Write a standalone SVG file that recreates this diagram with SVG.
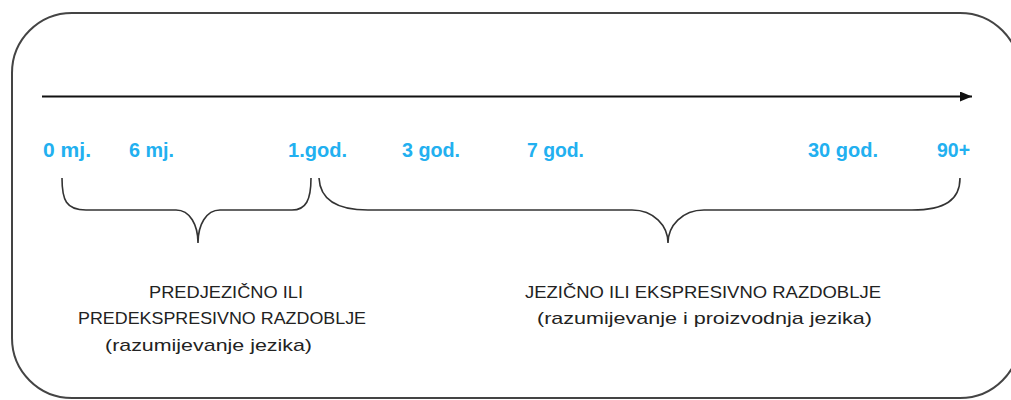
<svg xmlns="http://www.w3.org/2000/svg" width="1011" height="400" viewBox="0 0 1011 400">
<style>
.frame{fill:#fff;stroke:#444;stroke-width:2}
.axis{stroke:#111;stroke-width:2;fill:none}
.brace{stroke:#333;stroke-width:1.6;fill:none}
.age{font-family:"Liberation Sans",Arial,sans-serif;font-weight:bold;font-size:20px;fill:#22b0f0}
.cap{font-family:"Liberation Sans",Arial,sans-serif;font-size:17px;fill:#222}
</style>
<defs>
<marker id="arr" markerWidth="12" markerHeight="10" refX="12" refY="5" orient="auto" markerUnits="userSpaceOnUse">
<path d="M0,0 L12,5 L0,10 Z" fill="#111"/>
</marker>
</defs>
<rect width="1011" height="400" fill="#fff"/>
<g id="frame"><rect class="frame" x="12" y="13" width="1008" height="385" rx="60" ry="60"/></g>
<g id="connectors">
<line class="axis" x1="42" y1="96.5" x2="972" y2="96.5" marker-end="url(#arr)"/>
<path class="brace" d="M62,178 C62,200 66,210 86,210 L176,210 C190,210 198,225 198,243 C198,225 206,210 220,210 L292,210 C306,210 311,200 311,178"/>
<path class="brace" d="M319,178 C320,198 335,210 368,210 L632,210 C654,210 668,226 668,243 C668,226 682,210 704,210 L912,210 C945,210 960,200 960,178"/>
</g>
<g id="ages">
<text class="age" x="43" y="157" textLength="48" lengthAdjust="spacingAndGlyphs">0 mj.</text>
<text class="age" x="129" y="157" textLength="45" lengthAdjust="spacingAndGlyphs">6 mj.</text>
<text class="age" x="288" y="157" textLength="59" lengthAdjust="spacingAndGlyphs">1.god.</text>
<text class="age" x="402" y="157" textLength="58" lengthAdjust="spacingAndGlyphs">3 god.</text>
<text class="age" x="527" y="157" textLength="57" lengthAdjust="spacingAndGlyphs">7 god.</text>
<text class="age" x="808" y="157" textLength="70" lengthAdjust="spacingAndGlyphs">30 god.</text>
<text class="age" x="937" y="157" textLength="33" lengthAdjust="spacingAndGlyphs">90+</text>
</g>
<g id="period1">
<text class="cap" x="149" y="298" textLength="154" lengthAdjust="spacingAndGlyphs">PREDJEZIČNO ILI</text>
<text class="cap" x="78" y="324" textLength="288" lengthAdjust="spacingAndGlyphs">PREDEKSPRESIVNO RAZDOBLJE</text>
<text class="cap" x="105" y="351" textLength="207" lengthAdjust="spacingAndGlyphs">(razumijevanje jezika)</text>
</g>
<g id="period2">
<text class="cap" x="525" y="298" textLength="356" lengthAdjust="spacingAndGlyphs">JEZIČNO ILI EKSPRESIVNO RAZDOBLJE</text>
<text class="cap" x="537" y="324" textLength="335" lengthAdjust="spacingAndGlyphs">(razumijevanje i proizvodnja jezika)</text>
</g>
</svg>
